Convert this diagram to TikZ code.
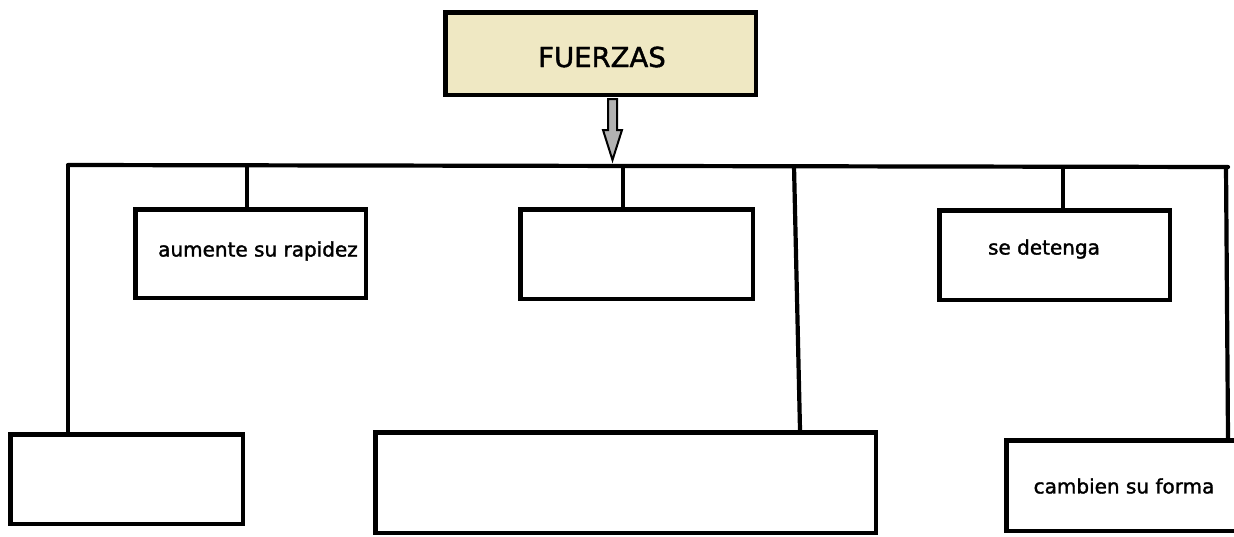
\documentclass[tikz,border=0pt]{standalone}
\usepackage{fontspec}
\newfontfamily\comic[FakeBold=1.6]{DejaVu Sans}
\definecolor{khaki}{RGB}{239,232,195}
\definecolor{arrgray}{RGB}{178,178,178}
\begin{document}
\begin{tikzpicture}[x=1pt,y=-1pt,
  box/.style={draw=black,line width=4.5pt,rectangle,inner sep=0pt},
  lbl/.style={font=\comic\fontsize{20}{24}\selectfont,inner sep=0pt,anchor=center},
  conn/.style={draw=black,line width=4.2pt},
  bigarrow/.style={draw=black,line width=2pt,fill=arrgray,line join=miter}]
\useasboundingbox (0,0) rectangle (1234,536);
\clip (0,0) rectangle (1234,536);
% boxes
\node[box,fill=khaki,minimum width=310.5pt,minimum height=82.5pt] (top) at (600.5,53.5) {};
\node[font=\comic\fontsize{27.5}{32}\selectfont,inner sep=0pt] (toptxt) at (602,57) {FUERZAS};
\node[box,minimum width=230.5pt,minimum height=88.5pt] (b1) at (250.5,253.5) {};
\node[box,minimum width=232.5pt,minimum height=89.5pt] (b2) at (636.5,254) {};
\node[box,minimum width=230.5pt,minimum height=89.5pt] (b3) at (1054.5,255) {};
\node[box,minimum width=232.5pt,minimum height=89.5pt] (bl) at (126.5,479) {};
\node[box,minimum width=500.5pt,minimum height=100.5pt] (bm) at (625.5,482.5) {};
\node[box,minimum width=239pt,minimum height=90.5pt] (br) at (1126,485.5) {};
% texts
\node[lbl] (t1) at (258,251) {aumente su rapidez};
\node[lbl] (t3) at (1044,249) {se detenga};
\node[lbl] (tr) at (1124,486) {cambien su forma};
% arrow
\coordinate (ar) at (612.5,99);
\draw[bigarrow] (ar) ++(-4.5,0) -- ++(0,31) -- ++(-5,0) -- ++(9.5,30) -- ++(9.5,-30) -- ++(-5,0) -- ++(0,-31) -- cycle;
% bar
\coordinate (hL) at (68,165);
\coordinate (hR) at (1228,167);
\draw[conn,line cap=round] (hL) -- (hR);
% drops to upper boxes
\coordinate (j1) at (247,165);
\coordinate (j2) at (623,166);
\coordinate (j3) at (1063,167);
\draw[conn] (j1) -- (j1 |- b1.north);
\draw[conn] (j2) -- (j2 |- b2.north);
\draw[conn] (j3) -- (j3 |- b3.north);
% long verticals to lower boxes
\draw[conn] (hL) -- (hL |- bl.north);
\coordinate (vm) at (794,166);
\coordinate (vmb) at (800,430);
\draw[conn] (vm) -- (vmb |- bm.north);
\coordinate (vr) at (1226,167);
\coordinate (vrb) at (1228,438);
\draw[conn] (vr) -- (vrb |- br.north);
\end{tikzpicture}
\end{document}
